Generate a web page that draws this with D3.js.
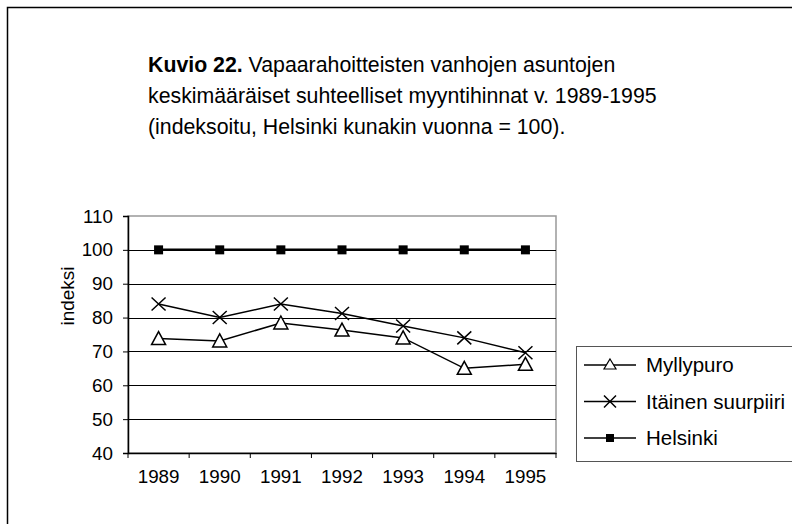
<!DOCTYPE html>
<html>
<head>
<meta charset="utf-8">
<script src="https://cdn.jsdelivr.net/npm/d3@7"></script>
<style>
  body { margin: 0; background: #fff; }
  text { font-family: "Liberation Sans", Arial, sans-serif; fill: #000; }
</style>
</head>
<body>
<div id="chart"></div>
<script>
// data
var years = ["1989", "1990", "1991", "1992", "1993", "1994", "1995"];
var myllypuro = [73.8, 73.1, 78.4, 76.3, 74.0, 65.0, 66.2];
var itainen = [84.0, 80.0, 84.0, 81.2, 77.5, 74.0, 69.6];
var helsinki = [100, 100, 100, 100, 100, 100, 100];
var yTicks = [40, 50, 60, 70, 80, 90, 100, 110];
var seriesNames = ["Myllypuro", "Itäinen suurpiiri", "Helsinki"];

var W = 792, H = 524;
var plot = { left: 128, top: 216, right: 556, bottom: 453 };

var svg = d3.select("#chart").append("svg").attr("width", W).attr("height", H);

// outer frame
svg.append("rect").attr("x", 7.5).attr("y", 7.5).attr("width", W + 10).attr("height", H + 10)
   .attr("fill", "#fff").attr("stroke", "#000").attr("stroke-width", 1.5);

// title
var title = svg.append("text").attr("x", 148).attr("y", 72).style("font-size", "21.3px");
title.append("tspan").style("font-weight", "bold").text("Kuvio 22.");
title.append("tspan").text(" Vapaarahoitteisten vanhojen asuntojen");
svg.append("text").attr("x", 148).attr("y", 103).style("font-size", "21.3px")
   .text("keskimääräiset suhteelliset myyntihinnat v. 1989-1995");
svg.append("text").attr("x", 148).attr("y", 134).style("font-size", "21.3px")
   .text("(indeksoitu, Helsinki kunakin vuonna = 100).");

var x = d3.scaleBand().domain(years).range([plot.left, plot.right]);
var y = d3.scaleLinear().domain([40, 110]).range([plot.bottom, plot.top]);

// plot area border (gray)
svg.append("rect").attr("x", plot.left).attr("y", plot.top)
   .attr("width", plot.right - plot.left).attr("height", plot.bottom - plot.top)
   .attr("fill", "none").attr("stroke", "#999").attr("stroke-width", 1.5);

// gridlines
svg.append("g").selectAll("line").data(yTicks.filter(function (d) { return d > 40 && d < 110; }))
   .enter().append("line")
   .attr("x1", plot.left).attr("x2", plot.right)
   .attr("y1", function (d) { return Math.round(y(d)) + 0.5; })
   .attr("y2", function (d) { return Math.round(y(d)) + 0.5; })
   .attr("stroke", "#000").attr("stroke-width", 1);

// y axis
var yAxis = svg.append("g").attr("transform", "translate(" + plot.left + ",0)")
   .call(d3.axisLeft(y).tickValues(yTicks).tickSize(5).tickPadding(10));
yAxis.select(".domain").attr("stroke", "#000").attr("stroke-width", 1.5);
yAxis.selectAll("text").style("font-size", "18.8px").attr("fill", "#000");

// x axis, ticks on category boundaries
var xAxis = svg.append("g").attr("transform", "translate(0," + plot.bottom + ")")
   .call(d3.axisBottom(x).tickSize(0).tickPadding(17));
xAxis.select(".domain").attr("stroke", "#000").attr("stroke-width", 1.5);
xAxis.selectAll("text").style("font-size", "18.8px").attr("fill", "#000");
var bounds = years.map(function (d) { return x(d); }).concat([plot.right]);
xAxis.selectAll("line.bnd").data(bounds).enter().append("line").attr("class", "bnd")
   .attr("x1", function (d) { return d; }).attr("x2", function (d) { return d; })
   .attr("y1", 0).attr("y2", 5).attr("stroke", "#000").attr("stroke-width", 1);

// y label
svg.append("text").attr("transform", "translate(74,296) rotate(-90)")
   .attr("text-anchor", "middle").style("font-size", "19px").text("indeksi");

var cx = function (i) { return x(years[i]) + x.bandwidth() / 2; };
var line = d3.line().x(function (d, i) { return cx(i); }).y(function (d) { return y(d); });

function drawMarker(g, type, px, py) {
  if (type === "tri") {
    g.append("path").attr("d", "M" + px + "," + (py - 7) + "L" + (px + 7) + "," + (py + 6) + "L" + (px - 7) + "," + (py + 6) + "Z")
     .attr("fill", "#fff").attr("stroke", "#000").attr("stroke-width", 1.5);
  } else if (type === "x") {
    g.append("path").attr("d", "M" + (px - 7) + "," + (py - 6.5) + "L" + (px + 7) + "," + (py + 6.5) + "M" + (px + 7) + "," + (py - 6.5) + "L" + (px - 7) + "," + (py + 6.5))
     .attr("stroke", "#000").attr("stroke-width", 1.5);
  } else {
    g.append("rect").attr("x", px - 4.5).attr("y", py - 4.5).attr("width", 9).attr("height", 9).attr("fill", "#000");
  }
}

var allSeries = [
  { name: seriesNames[0], values: myllypuro, type: "tri", w: 1.5 },
  { name: seriesNames[1], values: itainen, type: "x", w: 1.5 },
  { name: seriesNames[2], values: helsinki, type: "sq", w: 2.5 }
];

allSeries.forEach(function (s) {
  var g = svg.append("g");
  g.append("path").datum(s.values).attr("d", line).attr("fill", "none")
   .attr("stroke", "#000").attr("stroke-width", s.w);
  s.values.forEach(function (v, i) { drawMarker(g, s.type, cx(i), y(v)); });
});

// legend
var leg = svg.append("g");
leg.append("rect").attr("x", 576.5).attr("y", 346.5).attr("width", 240).attr("height", 115)
   .attr("fill", "#fff").attr("stroke", "#555").attr("stroke-width", 1);
allSeries.forEach(function (s, i) {
  var ly = 365 + i * 36.5;
  leg.append("line").attr("x1", 584).attr("x2", 636).attr("y1", ly).attr("y2", ly)
     .attr("stroke", "#000").attr("stroke-width", 1.5);
  var g = leg.append("g");
  if (s.type === "tri") {
    g.append("path").attr("d", "M610," + (ly - 6) + "L616," + (ly + 4) + "L604," + (ly + 4) + "Z")
     .attr("fill", "#fff").attr("stroke", "#000").attr("stroke-width", 1.2);
  } else if (s.type === "x") {
    g.append("path").attr("d", "M604," + (ly - 6) + "L616," + (ly + 6) + "M616," + (ly - 6) + "L604," + (ly + 6))
     .attr("stroke", "#000").attr("stroke-width", 1.5);
  } else {
    g.append("rect").attr("x", 606).attr("y", ly - 4).attr("width", 8).attr("height", 8).attr("fill", "#000");
  }
  leg.append("text").attr("x", 646).attr("y", ly + 7).style("font-size", "20.5px").text(s.name);
});
</script>
</body>
</html>
